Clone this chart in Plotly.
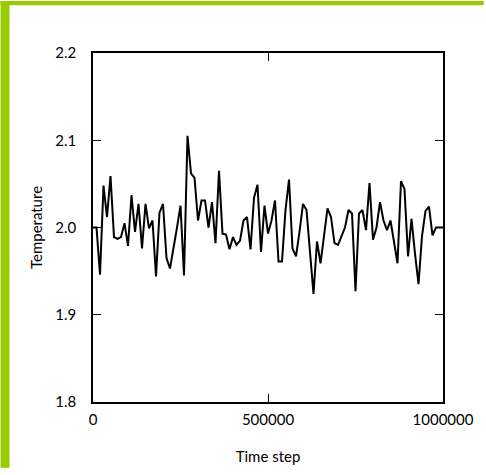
import plotly.graph_objects as go

time_step = [i * 10000 for i in range(101)]
temperature = [
    2.000, 2.000, 1.946, 2.048, 2.012, 2.059, 1.989, 1.987, 1.989, 2.005,
    1.979, 2.037, 1.995, 2.027, 1.976, 2.027, 1.999, 2.008, 1.944, 2.017,
    2.027, 1.965, 1.953, 1.975, 2.000, 2.025, 1.945, 2.105, 2.062, 2.057,
    2.008, 2.031, 2.031, 2.000, 2.029, 1.982, 2.065, 1.993, 1.992, 1.975,
    1.989, 1.980, 1.985, 2.008, 2.012, 1.975, 2.034, 2.049, 1.972, 2.025,
    1.993, 2.008, 2.031, 1.961, 1.961, 2.020, 2.055, 1.976, 1.967, 1.995,
    2.027, 2.020, 1.970, 1.924, 1.984, 1.959, 1.990, 2.022, 2.012, 1.982,
    1.980, 1.990, 2.000, 2.020, 2.016, 1.927, 2.016, 2.020, 1.997, 2.051,
    1.986, 2.000, 2.029, 2.008, 1.997, 2.008, 1.985, 1.959, 2.053, 2.044,
    1.967, 2.010, 1.970, 1.935, 1.990, 2.019, 2.024, 1.991, 2.000, 2.000,
    2.000,
]
x_ticks = [0, 500000, 1000000]
x_tick_labels = ["0", "500000", "1000000"]
y_ticks = [1.8, 1.9, 2.0, 2.1, 2.2]
y_tick_labels = ["1.8", "1.9", "2.0", "2.1", "2.2"]

W, H = 486, 475
L, R, T, B = 93, 445, 53, 408
pw, ph = R - L, B - T

def px(x):
    return (x - L) / pw

def py(y):
    return (B - y) / ph

font = dict(family="Lato, 'Open Sans', sans-serif", size=15, color="black")

fig = go.Figure()
fig.add_trace(go.Scatter(
    x=time_step, y=temperature, mode="lines",
    line=dict(color="black", width=2), showlegend=False,
))

green = "#99CC00"
fig.add_shape(type="rect", xref="paper", yref="paper",
              x0=px(0), x1=px(W), y0=py(0), y1=py(4.5),
              fillcolor=green, line=dict(width=0), layer="above")
fig.add_shape(type="rect", xref="paper", yref="paper",
              x0=px(0), x1=px(9), y0=py(0), y1=py(H),
              fillcolor=green, line=dict(width=0), layer="above")

axis_common = dict(
    showline=True, linecolor="black", linewidth=1.5, mirror="allticks",
    ticks="inside", ticklen=8, tickwidth=1, tickcolor="black",
    showgrid=False, zeroline=False, tickfont=font,
)

fig.update_layout(
    width=W, height=H,
    margin=dict(l=L, r=W - R, t=T, b=H - B, pad=0),
    paper_bgcolor="white", plot_bgcolor="white",
    font=font,
    xaxis=dict(
        range=[0, 1000000], tickvals=x_ticks, ticktext=x_tick_labels,
        title=dict(text="Time step", font=font, standoff=25),
        ticklabelstandoff=3,
        **axis_common,
    ),
    yaxis=dict(
        range=[1.8, 2.2], tickvals=y_ticks, ticktext=y_tick_labels,
        title=dict(text="Temperature", font=font, standoff=9),
        ticklabelstandoff=12,
        **axis_common,
    ),
)

fig.write_html(
    "out.html",
    config={"displayModeBar": False},
    post_script="document.body.style.margin='0';document.body.style.overflow='hidden';",
)
